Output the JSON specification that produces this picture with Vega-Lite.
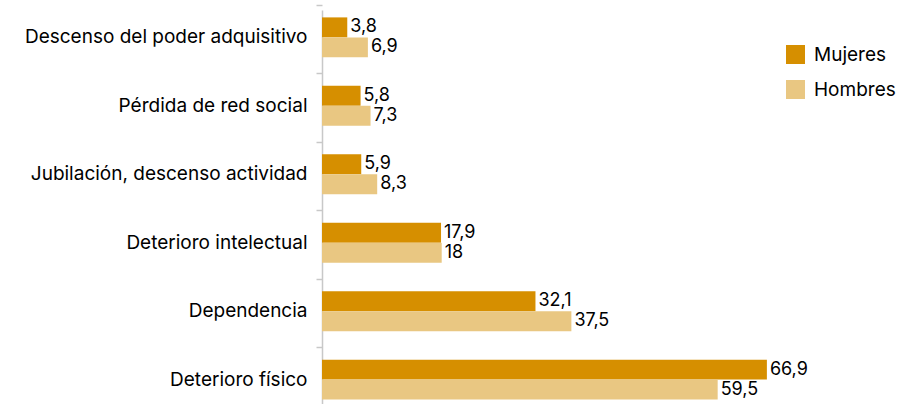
{
  "$schema": "https://vega.github.io/schema/vega-lite/v6.json",
  "width": 532,
  "height": 397,
  "autosize": {"type": "none"},
  "padding": {"left": 322, "top": 10, "right": 50, "bottom": 0},
  "background": "white",
  "config": {"view": {"stroke": null}, "font": "Inter"},
  "data": {"values": [
    {"causa": "Descenso del poder adquisitivo", "sexo": "Mujeres", "valor": 3.8, "etiqueta": "3,8"},
    {"causa": "Descenso del poder adquisitivo", "sexo": "Hombres", "valor": 6.9, "etiqueta": "6,9"},
    {"causa": "Pérdida de red social", "sexo": "Mujeres", "valor": 5.8, "etiqueta": "5,8"},
    {"causa": "Pérdida de red social", "sexo": "Hombres", "valor": 7.3, "etiqueta": "7,3"},
    {"causa": "Jubilación, descenso actividad", "sexo": "Mujeres", "valor": 5.9, "etiqueta": "5,9"},
    {"causa": "Jubilación, descenso actividad", "sexo": "Hombres", "valor": 8.3, "etiqueta": "8,3"},
    {"causa": "Deterioro intelectual", "sexo": "Mujeres", "valor": 17.9, "etiqueta": "17,9"},
    {"causa": "Deterioro intelectual", "sexo": "Hombres", "valor": 18, "etiqueta": "18"},
    {"causa": "Dependencia", "sexo": "Mujeres", "valor": 32.1, "etiqueta": "32,1"},
    {"causa": "Dependencia", "sexo": "Hombres", "valor": 37.5, "etiqueta": "37,5"},
    {"causa": "Deterioro físico", "sexo": "Mujeres", "valor": 66.9, "etiqueta": "66,9"},
    {"causa": "Deterioro físico", "sexo": "Hombres", "valor": 59.5, "etiqueta": "59,5"}
  ]},
  "encoding": {
    "y": {"field": "causa", "type": "nominal", "sort": null,
          "scale": {"paddingInner": 0.416, "paddingOuter": 0.108}},
    "yOffset": {"field": "sexo", "type": "nominal", "sort": ["Mujeres", "Hombres"], "scale": {"paddingInner": 0, "paddingOuter": 0}},
    "x": {"field": "valor", "type": "quantitative", "scale": {"domain": [0, 80]}, "axis": null}
  },
  "layer": [
    {
      "mark": {"type": "bar"},
      "encoding": {
        "y": {"field": "causa", "type": "nominal", "sort": null,
              "axis": {"orient": "left", "title": null, "ticks": false, "labelPadding": 15, "labelFontSize": 19, "labelColor": "#000000", "labelLimit": 400, "domainColor": "#c8c8c8", "domainWidth": 1.5, "labelFont": "Inter"}},
        "color": {"field": "sexo", "type": "nominal",
                  "scale": {"domain": ["Mujeres", "Hombres"], "range": ["#D68F00", "#E9C782"]},
                  "legend": {"title": null, "orient": "none", "legendX": 464, "legendY": 35, "symbolType": "square", "symbolSize": 361, "symbolStrokeWidth": 0, "labelFontSize": 19, "labelColor": "#000000", "labelFont": "Inter", "rowPadding": 15, "labelOffset": 9, "padding": 0}}
      }
    },
    {
      "mark": {"type": "text", "align": "left", "baseline": "middle", "dx": 3, "fontSize": 18, "color": "#000000", "font": "Inter"},
      "encoding": {
        "y": {"field": "causa", "type": "nominal", "sort": null,
              "axis": {"orient": "left", "title": null, "labels": false, "ticks": true, "tickSize": 6, "tickColor": "#c8c8c8", "tickWidth": 1.5, "domain": false, "bandPosition": -0.3, "grid": false}},
        "text": {"field": "etiqueta"}
      }
    }
  ],
  "resolve": {"axis": {"y": "independent"}}
}
